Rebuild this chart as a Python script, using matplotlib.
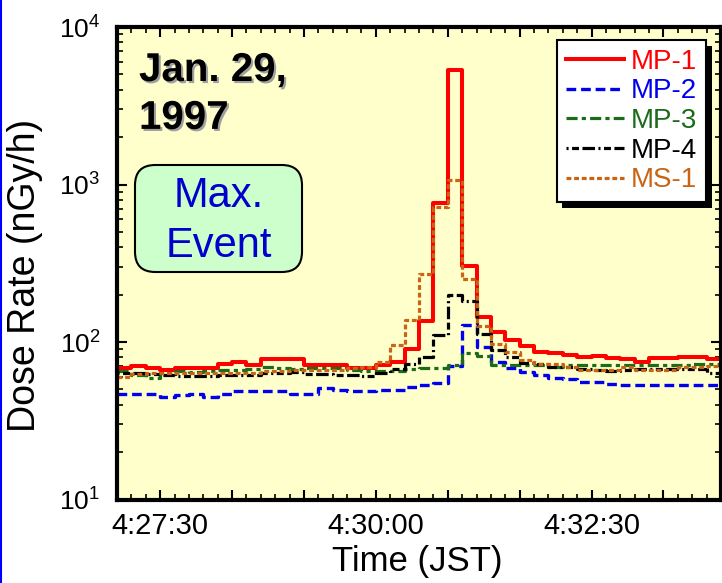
import numpy as np
import matplotlib
matplotlib.use('Agg')
import matplotlib.pyplot as plt
from matplotlib import patheffects as pe
from matplotlib.patches import FancyBboxPatch
from matplotlib.lines import Line2D
from matplotlib.ticker import FixedLocator, MultipleLocator, LogLocator, NullFormatter, FuncFormatter

plt.rcParams['font.family'] = ['Liberation Sans', 'DejaVu Sans']
plt.rcParams['mathtext.fontset'] = 'custom'
plt.rcParams['mathtext.rm'] = 'Liberation Sans'
plt.rcParams['mathtext.it'] = 'Liberation Sans:italic'
plt.rcParams['lines.scale_dashes'] = False

# 10 s bins starting at 4:27:00 JST, dose rate in nGy/h
bin_start = np.arange(0, 420, 10)   # seconds after 4:27:00
bin_width = 10

mp1 = [68, 70.4, 68.7, 66.4, 68.7, 68.7, 68.7, 72, 75, 71, 78, 78, 78, 71,
       71, 71, 68, 68.7, 71, 75, 90, 136, 760, 5330, 304, 145, 115, 103,
       94.5, 86.4, 84.6, 82.7, 80, 82, 79, 78, 74.7, 79, 79, 80.4, 80.4, 78]
mp2 = [47, 46.8, 46.8, 44.5, 46, 46.8, 44.5, 46.8, 48.9, 48.9, 48.9, 48.9, 46.5, 46.5,
       51, 49.4, 48.7, 48.7, 49.5, 49.5, 52, 53, 55, 70, 128, 93, 75, 68,
       64.5, 61.8, 59, 58, 55.5, 55.5, 54, 53.3, 53.3, 53.3, 53.3, 53.3, 53.3, 53.3]
mp3 = [65, 62, 59, 63.5, 65, 64.5, 65, 66, 66.4, 67.5, 69, 68, 67.5, 68.7,
       68.7, 68.7, 66.5, 65, 65, 65, 67, 68, 68, 71.5, 85, 81.4, 71.5, 71.5,
       71.5, 71.5, 69.6, 71.5, 71.5, 71.5, 71.5, 71.5, 71.5, 71.5, 71.5, 71.5, 73, 73]
mp4 = [64, 63.5, 63, 62, 61.1, 61.1, 61.1, 61.5, 61.8, 62, 63.5, 63.5, 64.4, 62.5,
       62.5, 62, 61.8, 61, 64, 67, 73, 80, 111, 199, 182, 112, 89, 80,
       74, 72, 69.6, 69.6, 67, 66, 65, 66, 67, 67, 67, 67, 67, 64]
ms1 = [60, 62.5, 63.8, 64, 64, 64, 64, 64, 63.8, 63.8, 65.4, 65.4, 66.4, 66.4,
       66.4, 66.4, 68, 69.6, 75, 95.5, 138, 272, 716, 1069, 250, 126, 97, 86.8,
       77, 72.4, 72, 69.6, 66.4, 66.4, 66.4, 69, 66.4, 66.4, 66.4, 69, 69.6, 70.5]

names = ['MP-1', 'MP-2', 'MP-3', 'MP-4', 'MS-1']
tick_times = {30: '4:27:30', 180: '4:30:00', 330: '4:32:30'}

W, H = 722, 583


def fx(px):
    return px / W


def fy(py):
    return 1 - py / H


fig = plt.figure(figsize=(7.22, 5.83), dpi=100)
ax = fig.add_axes([fx(117), fy(499.5), fx(721) - fx(117), fy(27) - fy(499.5)])
ax.set_facecolor('#ffffcc')

styles = [
    dict(color='#ff0000', ls='-', lw=2.9),
    dict(color='#0000ee', ls=(0, (7, 3.5)), lw=2.4),
    dict(color='#1b6b1b', ls=(0, (8, 3, 3, 3)), lw=2.3),
    dict(color='#000000', ls=(0, (1.5, 2.5, 5, 2.5, 9, 2.5)), lw=2.3),
    dict(color='#c86414', ls=(0, (3.5, 2)), lw=2.3),
]

edges = np.append(bin_start, bin_start[-1] + bin_width)
for name, vals, st in zip(names, [mp1, mp2, mp3, mp4, ms1], styles):
    ax.step(edges, np.append(vals, vals[-1]), where='post', label=name, **st)

ax.set_yscale('log')
ax.set_ylim(10, 1e4)
ax.set_xlim(0, 420)

ax.xaxis.set_major_locator(FixedLocator(np.arange(30, 420, 50)))
ax.xaxis.set_minor_locator(MultipleLocator(10))
ax.xaxis.set_major_formatter(FuncFormatter(lambda s, p: tick_times.get(int(round(s)), '')))
ax.yaxis.set_major_locator(LogLocator(base=10))
ax.yaxis.set_minor_locator(LogLocator(base=10, subs=np.arange(2, 10)))
ax.yaxis.set_minor_formatter(NullFormatter())

ax.tick_params(which='both', direction='in', top=True, right=True)
ax.tick_params(which='major', length=7, width=1.5)
ax.tick_params(which='minor', length=4, width=1.2)
ax.tick_params(axis='x', which='major', labelsize=21, pad=9)
ax.tick_params(axis='y', which='major', labelsize=19, pad=12)
for sp in ax.spines.values():
    sp.set_linewidth(3)

ax.set_ylabel('Dose Rate (nGy/h)', fontsize=27)
ax.yaxis.set_label_coords(-0.122, 0.475)
ax.set_xlabel('Time (JST)', fontsize=25)
ax.xaxis.set_label_coords(0.497, -0.096)

leg = ax.legend(loc='upper right', bbox_to_anchor=(fx(706), fy(40)),
                bbox_transform=fig.transFigure, fontsize=20, frameon=True,
                fancybox=False, handlelength=2.1, handletextpad=0.25,
                labelspacing=0.13, borderpad=0.32, borderaxespad=0)
frame = leg.get_frame()
frame.set_edgecolor('k')
frame.set_linewidth(1.5)
frame.set_alpha(1)
frame.set_path_effects([pe.SimplePatchShadow(offset=(4, -4), shadow_rgbFace='k', alpha=1), pe.Normal()])
for txt, line in zip(leg.get_texts(), leg.get_lines()):
    txt.set_color(line.get_color())

# date label with grey drop shadow
fig.text(fx(139), fy(51), 'Jan. 29,\n1997', fontsize=29, weight='bold', ha='left', va='top',
         linespacing=1.33,
         path_effects=[pe.SimplePatchShadow(offset=(1.5, -1.5), shadow_rgbFace='#a0a0a0', alpha=1),
                       pe.Normal()])

# rounded green box
box = FancyBboxPatch((fx(135), fy(272)), fx(302) - fx(135), fy(165) - fy(272),
                     boxstyle='round,pad=0,rounding_size=0.028', mutation_aspect=W / H,
                     transform=fig.transFigure, facecolor='#ccffcc', edgecolor='k', linewidth=1.5)
fig.add_artist(box)
fig.text(fx(218.5), fy(221), 'Max.\nEvent', fontsize=30, color='#0000cc', ha='center', va='center',
         linespacing=1.32)

fig.add_artist(Line2D([0.0015, 0.0015], [0, 1], transform=fig.transFigure, color='#0000ff', lw=1.5))

fig.savefig('out.png', dpi=100)
